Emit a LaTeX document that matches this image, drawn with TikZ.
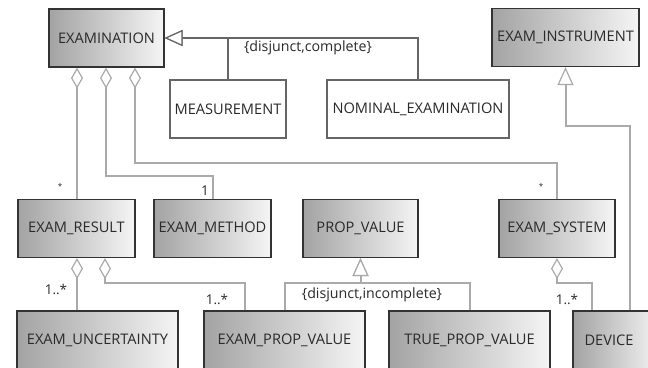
\documentclass[tikz,border=0pt]{standalone}
\usepackage{fontspec}
\setmainfont{Open Sans}
\usetikzlibrary{arrows.meta}
\definecolor{linegray}{HTML}{AAAAAA}
\definecolor{gengray}{HTML}{666666}
\definecolor{boxline}{HTML}{333333}
\definecolor{textgray}{HTML}{2A2A2A}

\begin{document}
\begin{tikzpicture}[x=1pt,y=-1pt,
  every node/.style={font=\fontsize{14.6}{16}\selectfont, text=textgray, inner sep=0pt},
  cls/.style={draw=boxline, line width=1.2pt, left color=black!36, right color=black!4, minimum height=58pt},
  sub/.style={draw=gengray, line width=1.2pt, fill=white, minimum height=58pt},
  agg/.style={draw=linegray, line width=2pt, {Diamond[open, fill=white, length=21pt, width=12pt, line width=1.2pt]}-},
  gen/.style={draw=gengray, line width=2pt, -{Triangle[open, fill=white, length=18pt, width=16pt, line width=1.2pt]}},
  genl/.style={draw=linegray, line width=2pt, -{Triangle[open, fill=white, length=18pt, width=16pt, line width=1.2pt]}},
  constr/.style={font=\fontsize{14.2}{16}\selectfont},
  mult/.style={font=\fontsize{13.5}{15}\selectfont},
  star/.style={font=\fontsize{8}{9}\selectfont}]
\useasboundingbox (0,0) rectangle (648,367);
\clip (0,0) rectangle (648,367);
% classes
\node[cls, minimum width=115pt] (examination) at (106.5,38) {EXAMINATION};
\node[sub, minimum width=116pt] (measurement) at (228,109) {MEASUREMENT};
\node[sub, minimum width=182pt] (nominal) at (418,109) {NOMINAL\_EXAMINATION};
\node[cls, minimum width=147pt] (instrument) at (565.5,37.5) {EXAM\_INSTRUMENT};
\node[cls, minimum width=117pt] (result) at (76.5,228.5) {EXAM\_RESULT};
\node[cls, minimum width=117pt] (method) at (212.5,228.5) {EXAM\_METHOD};
\node[cls, minimum width=115pt] (propvalue) at (360.5,228.5) {PROP\_VALUE};
\node[cls, minimum width=116pt] (system) at (557,228.5) {EXAM\_SYSTEM};
\node[cls, minimum width=161pt] (uncertainty) at (97.5,340) {EXAM\_UNCERTAINTY};
\node[cls, minimum width=161pt] (epv) at (284.5,340) {EXAM\_PROP\_VALUE};
\node[cls, minimum width=161pt] (tpv) at (469.5,340) {TRUE\_PROP\_VALUE};
\node[cls, minimum width=87pt] (device) at (616.5,340) {\hspace*{-15pt}DEVICE};

% generalizations
\draw[gen] (nominal.north) |- (examination.east);
\draw[gen] (measurement.north) |- (examination.east);
\node[constr] (complete) at (308,48) {\{disjunct,complete\}};
\draw[genl] (epv.north) |- ([yshift=-25pt]propvalue.south) -- (propvalue.south);
\draw[genl] (tpv.north) |- ([yshift=-25pt]propvalue.south) -- (propvalue.south);
\node[constr] (incomplete) at (372,295) {\{disjunct,incomplete\}};
\draw[genl] ([xshift=13.5pt]device.north) |- ([yshift=-59pt]instrument.south) -- (instrument.south);

% aggregations
\draw[agg] ([xshift=-29.5pt]examination.south) -- ([xshift=0.5pt]result.north);
\draw[agg] ([xshift=-0.5pt]examination.south) |- ([yshift=23pt]method.north) -- (method.north);
\draw[agg] ([xshift=28.5pt]examination.south) |- ([yshift=36pt]system.north) -- (system.north);
\draw[agg] ([xshift=0.5pt]result.south) -- ([xshift=0.5pt]result.south |- uncertainty.north);
\draw[agg] ([xshift=28.5pt]result.south) |- ([xshift=-39.5pt,yshift=27pt]epv.north) -- ([xshift=-39.5pt]epv.north);
\draw[agg] (system.south) |- ([xshift=-24.5pt,yshift=27pt]device.north) -- ([xshift=-24.5pt]device.north);

% multiplicities
\node[star] (mres) at (60,186) {*};
\node[mult] (mmeth) at (205,191) {1};
\node[star] (msys) at (541,186) {*};
\node[mult] (munc) at (56,289) {1..*};
\node[mult] (mepv) at (217,299) {1..*};
\node[mult] (mdev) at (567,299) {1..*};
\end{tikzpicture}
\end{document}
